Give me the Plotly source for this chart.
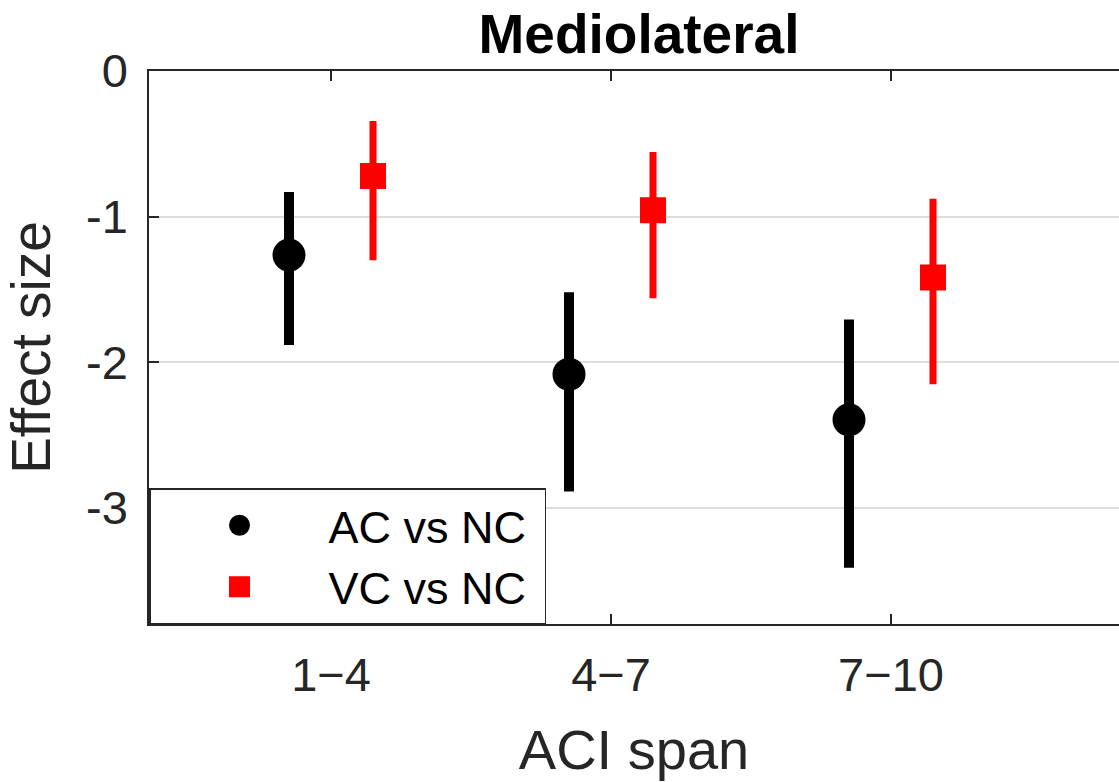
import numpy as np
import plotly.graph_objects as go

# ---- data ----
categories = ["1\u22124", "4\u22127", "7\u221210"]
ac_mean = [-1.265, -2.084, -2.397]
ac_upper = [-0.831, -1.520, -1.707]
ac_lower = [-1.883, -2.889, -3.414]
vc_mean = [-0.721, -0.957, -1.419]
vc_upper = [-0.344, -0.557, -0.877]
vc_lower = [-1.300, -1.562, -2.152]
y_tickvals = [0, -1, -2, -3]
y_ticktext = ["0", "-1", "-2", "-3"]

FONT = "Liberation Sans, Arial, sans-serif"
pos = np.arange(1, len(categories) + 1)
offset = 0.15

def err(mean, up, lo):
    m = np.array(mean); u = np.array(up); l = np.array(lo)
    return (u - m).tolist(), (m - l).tolist()

ac_plus, ac_minus = err(ac_mean, ac_upper, ac_lower)
vc_plus, vc_minus = err(vc_mean, vc_upper, vc_lower)

fig = go.Figure()
fig.add_trace(go.Scatter(
    x=pos - offset, y=ac_mean, mode="markers", name="AC vs NC\u00a0",
    marker=dict(symbol="circle", size=28, color="black",
                line=dict(width=5, color="black")),
    error_y=dict(type="data", symmetric=False, array=ac_plus, arrayminus=ac_minus,
                 color="black", thickness=10, width=0),
))
fig.add_trace(go.Scatter(
    x=pos + offset, y=vc_mean, mode="markers", name="VC vs NC\u00a0",
    marker=dict(symbol="square", size=21, color="#ff0000",
                line=dict(width=5, color="#ff0000")),
    error_y=dict(type="data", symmetric=False, array=vc_plus, arrayminus=vc_minus,
                 color="#ff0000", thickness=7, width=0),
))

axis_col = "#262626"
fig.update_layout(
    width=1119, height=782,
    margin=dict(l=149, r=0, t=71, b=158),
    paper_bgcolor="white", plot_bgcolor="white",
    font=dict(family=FONT, color=axis_col),
    title=dict(text="<b>Mediolateral</b>", x=639 / 1119, xanchor="center",
               y=1 - 53 / 782, yanchor="bottom",
               font=dict(family=FONT, size=55, color="black")),
    showlegend=True,
    legend=dict(x=0, y=0, xanchor="left", yanchor="bottom",
                xref="paper", yref="paper",
                bgcolor="white", bordercolor=axis_col, borderwidth=1.5,
                font=dict(family=FONT, size=45, color="black"),
                itemwidth=168, tracegroupgap=0),
)
fig.update_xaxes(
    range=[0.35, 0.35 + 970 / 280], tickmode="array", tickvals=pos.tolist(),
    ticktext=categories, ticks="inside", ticklen=10, tickwidth=1.5,
    tickcolor=axis_col, showline=True, linecolor=axis_col, linewidth=1.5,
    mirror="ticks", showgrid=False, zeroline=False,
    tickfont=dict(family=FONT, size=47, color=axis_col), ticklabelstandoff=9,
    title=dict(text="ACI span", font=dict(family=FONT, size=56, color=axis_col),
               standoff=30),
)
fig.update_yaxes(
    range=[-3.8, 0], tickmode="array", tickvals=y_tickvals, ticktext=y_ticktext,
    ticks="inside", ticklen=10, tickwidth=1.5, tickcolor=axis_col,
    showline=True, linecolor=axis_col, linewidth=1.5, mirror=False,
    showgrid=True, gridcolor="#dcdcdc", gridwidth=1.5, zeroline=False,
    tickfont=dict(family=FONT, size=47, color=axis_col), ticklabelstandoff=10,
    title=dict(text="Effect size", font=dict(family=FONT, size=55, color=axis_col),
               standoff=20),
)

fig.write_html("out.html", config={"displayModeBar": False},
               post_script="document.body.style.margin='0px';document.body.style.overflow='hidden';")
